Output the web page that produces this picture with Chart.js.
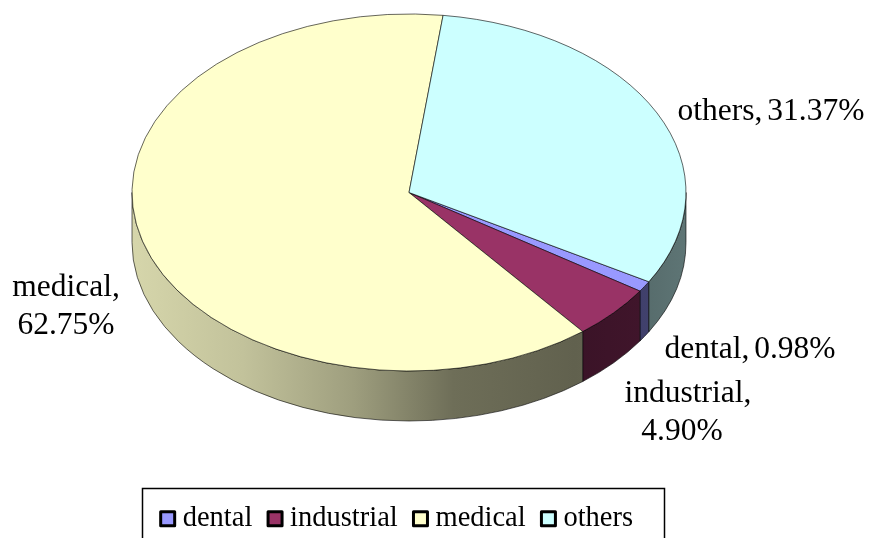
<!DOCTYPE html>
<html>
<head>
<meta charset="utf-8">
<title>Pie</title>
<script src="https://cdn.jsdelivr.net/npm/chart.js@4"></script>
<style>
  html, body { margin: 0; padding: 0; background: #fff; overflow: hidden; }
  #box { width: 870px; height: 538px; }
</style>
</head>
<body>
<div id="box"><canvas id="myChart"></canvas></div>
<script>
const categories = ['dental', 'industrial', 'medical', 'others'];
const shares = [0.98, 4.90, 62.75, 31.37];
const sliceColors = ['#9999FF', '#993366', '#FFFFCC', '#CCFFFF'];

// the flattened disc, the picture is a tilted 3D pie
const disc = { x: 409, y: 192.5, rx: 277, ry: 178.5, depth: 50 };

// darkening of the side wall going left to right
const wallShade = [[0, 0.84], [0.2, 0.76], [0.4, 0.62], [0.58, 0.43], [0.8, 0.38], [0.92, 0.42], [1, 0.46]];

// where the data labels sit: one line per entry, centre x and centre y
const labelSpots = {
  dental: [[750, 350]],
  industrial: [[688, 394], [682, 432]],
  medical: [[66, 288], [66, 326]],
  others: [[771, 112]]
};

function shaded(hex, f) {
  let n = parseInt(hex.slice(1), 16);
  let r = Math.round((n >> 16 & 255) * f);
  let g = Math.round((n >> 8 & 255) * f);
  let b = Math.round((n & 255) * f);
  return 'rgb(' + r + ',' + g + ',' + b + ')';
}

function wallGradient(ctx, color) {
  let grad = ctx.createLinearGradient(disc.x - disc.rx, 0, disc.x + disc.rx, 0);
  wallShade.forEach(s => grad.addColorStop(s[0], shaded(color, s[1])));
  return grad;
}

// the part of the rim of one slice that faces the viewer
function drawWall(ctx, a0, a1, color) {
  for (let k = -1; k <= 1; k++) {
    let from = Math.max(a0, k * 2 * Math.PI);
    let to = Math.min(a1, k * 2 * Math.PI + Math.PI);
    if (to <= from) continue;
    ctx.beginPath();
    ctx.ellipse(disc.x, disc.y, disc.rx, disc.ry, 0, from, to);
    ctx.ellipse(disc.x, disc.y + disc.depth, disc.rx, disc.ry, 0, to, from, true);
    ctx.closePath();
    ctx.fillStyle = wallGradient(ctx, color);
    ctx.fill();
    ctx.lineWidth = 0.8;
    ctx.strokeStyle = 'rgba(0,0,0,0.75)';
    ctx.stroke();
  }
}

const tiltPlugin = {
  id: 'tilt',
  beforeDatasetsDraw: function(chart) {
    let ctx = chart.ctx;
    let arcs = chart.getDatasetMeta(0).data;
    arcs.forEach((arc, i) => drawWall(ctx, arc.startAngle, arc.endAngle, sliceColors[i]));
    ctx.save();
    ctx.translate(disc.x, disc.y);
    ctx.scale(disc.rx / arcs[0].outerRadius, disc.ry / arcs[0].outerRadius);
    ctx.translate(-arcs[0].x, -arcs[0].y);
  },
  afterDatasetsDraw: function(chart) {
    chart.ctx.restore();
  },
  afterDraw: function(chart) {
    let ctx = chart.ctx;
    ctx.save();
    ctx.fillStyle = '#000';
    ctx.font = '31.5px "Liberation Serif"';
    ctx.wordSpacing = '-3px';
    ctx.textAlign = 'center';
    ctx.textBaseline = 'middle';
    categories.forEach((cat, i) => {
      let text = cat + ', ' + shares[i].toFixed(2) + '%';
      let spots = labelSpots[cat];
      let lines = spots.length > 1 ? [cat + ',', shares[i].toFixed(2) + '%'] : [text];
      lines.forEach((line, j) => ctx.fillText(line, spots[j][0], spots[j][1]));
    });
    // legend frame, the bottom edge runs off the picture
    ctx.lineWidth = 1.5;
    ctx.strokeStyle = '#000';
    ctx.strokeRect(142.5, 488.5, 522, 52);
    ctx.restore();
  }
};

const config = {
  type: 'pie',
  data: {
    labels: categories,
    datasets: [{
      data: shares,
      backgroundColor: sliceColors,
      borderColor: 'rgba(0,0,0,0.8)',
      borderWidth: 0.8,
      clip: false
    }]
  },
  options: {
    responsive: true,
    maintainAspectRatio: false,
    animation: false,
    rotation: 120,
    layout: { padding: { right: 70, bottom: -5 } },
    plugins: {
      tooltip: { enabled: false },
      legend: {
        position: 'bottom',
        labels: {
          usePointStyle: true,
          pointStyle: 'rect',
          boxWidth: 1.5,
          boxHeight: 14,
          padding: 22,
          color: '#000',
          font: { family: '"Liberation Serif"', size: 28.5 },
          generateLabels: function(chart) {
            let items = Chart.overrides.pie.plugins.legend.labels.generateLabels(chart);
            items.forEach(item => {
              item.strokeStyle = '#000';
              item.lineWidth = 3;
              item.lineJoin = 'round';
            });
            return items;
          }
        }
      }
    }
  },
  plugins: [tiltPlugin]
};

new Chart(document.getElementById('myChart'), config);
</script>
</body>
</html>
